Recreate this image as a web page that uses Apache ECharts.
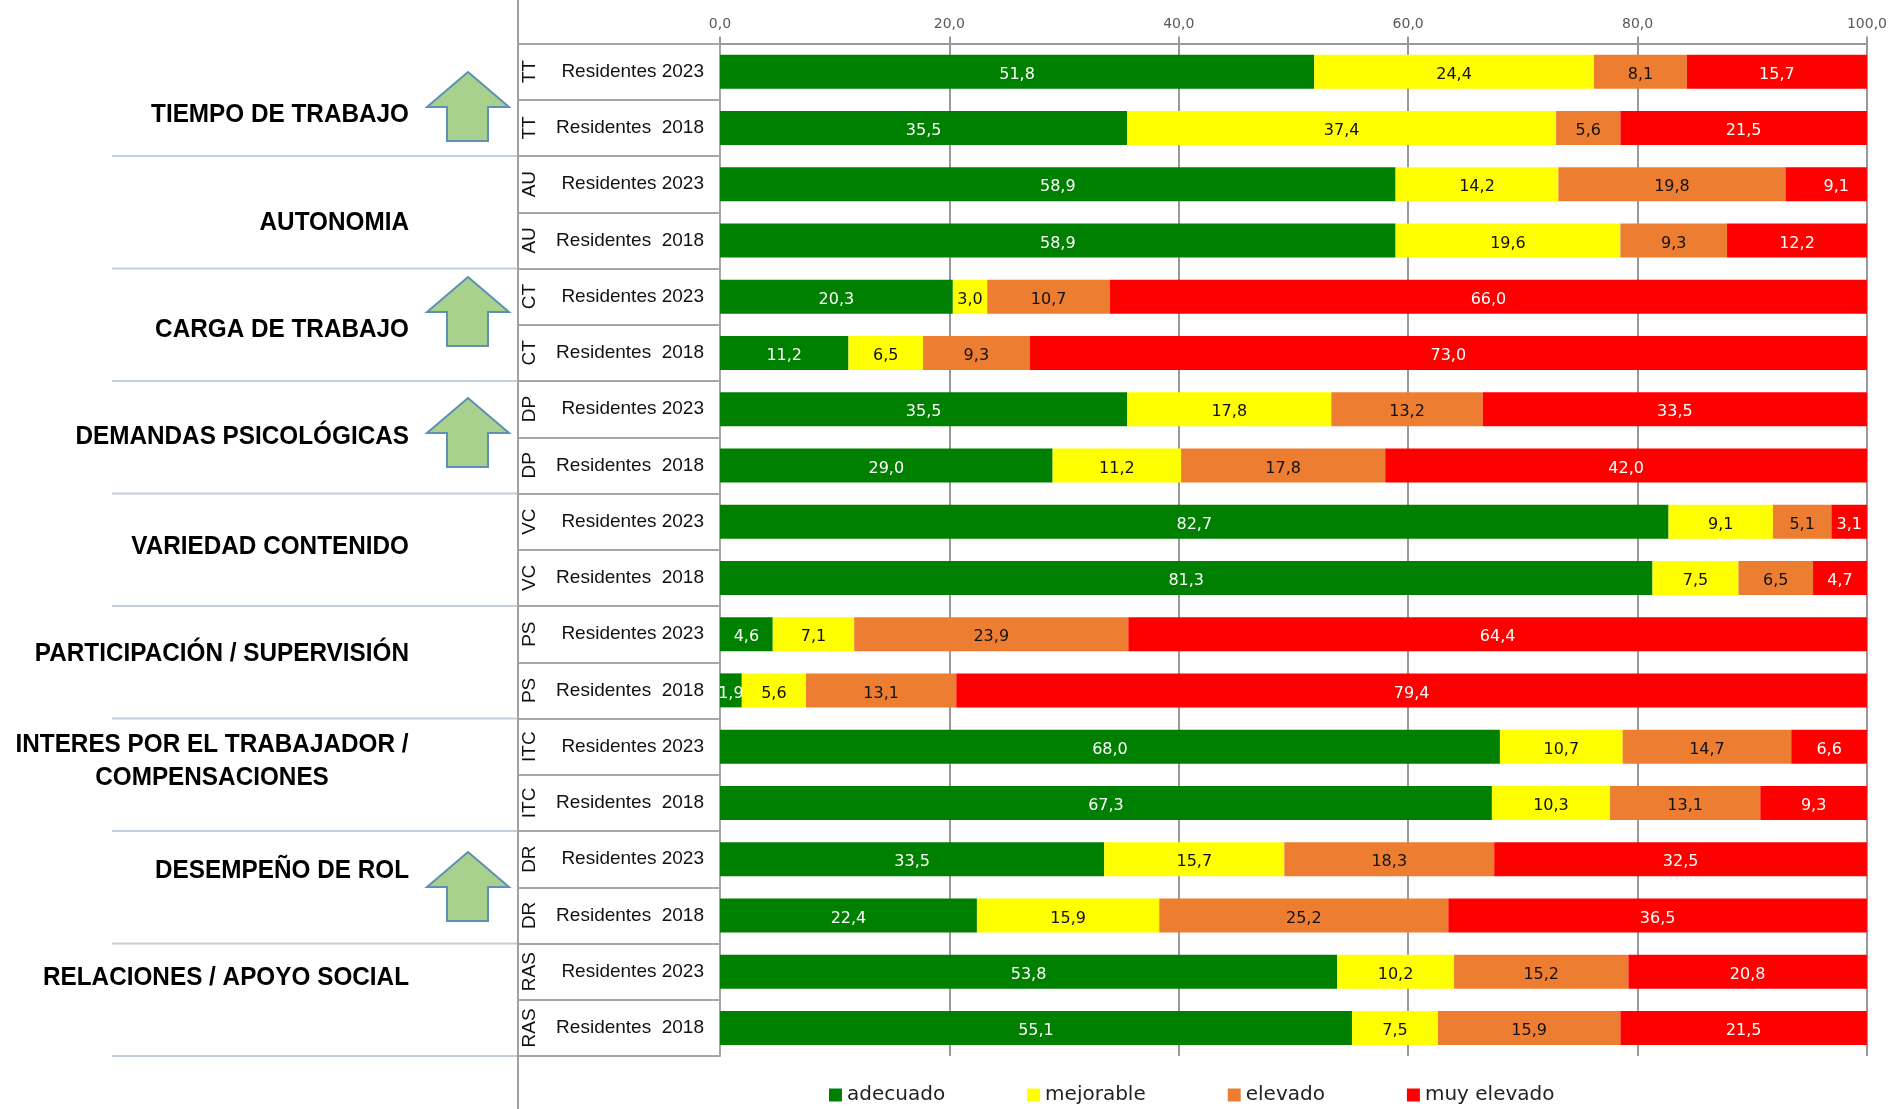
<!DOCTYPE html>
<html><head><meta charset="utf-8">
<script src="https://cdn.jsdelivr.net/npm/echarts@6/dist/echarts.min.js"></script>
<style>html,body{margin:0;padding:0;background:#fff}#c{width:1890px;height:1109px}</style>
</head><body><div id="c"></div>
<script>
const rowLabels = ['Residentes 2023','Residentes  2018','Residentes 2023','Residentes  2018','Residentes 2023','Residentes  2018','Residentes 2023','Residentes  2018','Residentes 2023','Residentes  2018','Residentes 2023','Residentes  2018','Residentes 2023','Residentes  2018','Residentes 2023','Residentes  2018','Residentes 2023','Residentes  2018'];
const abbreviations = ['TT','TT','AU','AU','CT','CT','DP','DP','VC','VC','PS','PS','ITC','ITC','DR','DR','RAS','RAS'];
const adecuado   = [51.8,35.5,58.9,58.9,20.3,11.2,35.5,29.0,82.7,81.3,4.6,1.9,68.0,67.3,33.5,22.4,53.8,55.1];
const mejorable  = [24.4,37.4,14.2,19.6,3.0,6.5,17.8,11.2,9.1,7.5,7.1,5.6,10.7,10.3,15.7,15.9,10.2,7.5];
const elevado    = [8.1,5.6,19.8,9.3,10.7,9.3,13.2,17.8,5.1,6.5,23.9,13.1,14.7,13.1,18.3,25.2,15.2,15.9];
const muyElevado = [15.7,21.5,9.1,12.2,66.0,73.0,33.5,42.0,3.1,4.7,64.4,79.4,6.6,9.3,32.5,36.5,20.8,21.5];
const groupLabels = ['TIEMPO DE TRABAJO','AUTONOMIA','CARGA DE TRABAJO','DEMANDAS PSICOLÓGICAS','VARIEDAD CONTENIDO','PARTICIPACIÓN / SUPERVISIÓN','INTERES POR EL TRABAJADOR /\nCOMPENSACIONES','DESEMPEÑO DE ROL','RELACIONES / APOYO SOCIAL'];

const gridTop = 43.5, gridBottom = 1056, gridLeft = 720, gridRight = 1867.5;
const rowH = (gridBottom - gridTop) / rowLabels.length;

const groupTextY = [115,223,330,437,547,654,761,871,978];
const arrowTipY = [72,277,398,852];

const gfx = [];
gfx.push({type:'line',shape:{x1:518,y1:0,x2:518,y2:1109},style:{stroke:'#a0a0a0',lineWidth:2},z:5});
groupLabels.forEach((t,i)=>{
  const sepY = gridTop + (i+1)*2*rowH;
  gfx.push({type:'line',shape:{x1:112,y1:sepY,x2:518,y2:sepY},style:{stroke:'#c3cede',lineWidth:2},z:4});
  const two = t.includes('\n');
  gfx.push({type:'text',x: two ? 212 : 409,y:groupTextY[i],z:6,scaleX:0.935,
    style:{text:t,font:'bold 26px "Liberation Sans",Arial',fill:'#000',
      align: two ? 'center':'right',verticalAlign:'middle',lineHeight:33}});
});
arrowTipY.forEach(tip=>{
  gfx.push({type:'polygon',z:6,shape:{points:[[468,tip],[509,tip+35],[488,tip+35],[488,tip+69],[447,tip+69],[447,tip+35],[427,tip+35]]},
    style:{fill:'#a9d18e',stroke:'#5f8fb4',lineWidth:2}});
});

const fmt = p => p.value.toFixed(1).replace('.',',');
function stackSeries(name,data,color,labelColor){
  return {name,type:'bar',stack:'t',data,barWidth:34,itemStyle:{color},
    label:{show:true,position:'inside',formatter:fmt,color:labelColor,fontFamily:'"DejaVu Sans"',fontSize:16,offset:[0,3]}};
}
// the 9,1 label sits right of the clipped segment's centre in the source
const muyElevadoItems = muyElevado.map((v,i)=> i===2 ? {value:v,label:{offset:[10,3]}} : v);
const chart = echarts.init(document.getElementById('c'),null,{renderer:'canvas'});
chart.setOption({
  animation:false,
  backgroundColor:'#fff',
  grid:{left:gridLeft,top:gridTop,width:gridRight-gridLeft,height:gridBottom-gridTop,containLabel:false},
  legend:{left:824,top:1080,icon:'rect',itemWidth:13,itemHeight:13,itemGap:82,
    textStyle:{fontFamily:'"DejaVu Sans"',fontSize:20,color:'#222'},
    data:['adecuado','mejorable','elevado','muy elevado']},
  xAxis:{type:'value',position:'top',min:0,max:100,interval:20,
    axisLine:{show:true,lineStyle:{color:'#999',width:2}},
    axisTick:{show:true,length:7,lineStyle:{color:'#999',width:2}},
    splitLine:{show:true,lineStyle:{color:'#999',width:2}},
    axisLabel:{margin:12,fontFamily:'"DejaVu Sans"',fontSize:14,color:'#595959',formatter:v=>v.toFixed(1).replace('.',',')}},
  yAxis:[
    {type:'category',inverse:true,data:rowLabels,position:'left',
      axisLine:{show:true,lineStyle:{color:'#a6a6a6',width:2}},
      axisTick:{show:true,length:202,lineStyle:{color:'#a6a6a6',width:2}},
      axisLabel:{margin:16,fontFamily:'"Liberation Sans",Arial',fontSize:19,color:'#111',verticalAlign:'middle',lineHeight:20,padding:[0,0,9,0]}},
    {type:'category',inverse:true,data:abbreviations,position:'left',
      axisLine:{show:false},axisTick:{show:false},
      axisLabel:{margin:181,rotate:90,fontFamily:'"Liberation Sans",Arial',fontSize:19,color:'#111'}}
  ],
  series:[
    stackSeries('adecuado',adecuado,'#008000','#fff'),
    stackSeries('mejorable',mejorable,'#ffff00','#111'),
    stackSeries('elevado',elevado,'#ed7d31','#111'),
    stackSeries('muy elevado',muyElevadoItems,'#ff0000','#fff')
  ],
  graphic:{elements:gfx}
});
</script></body></html>
